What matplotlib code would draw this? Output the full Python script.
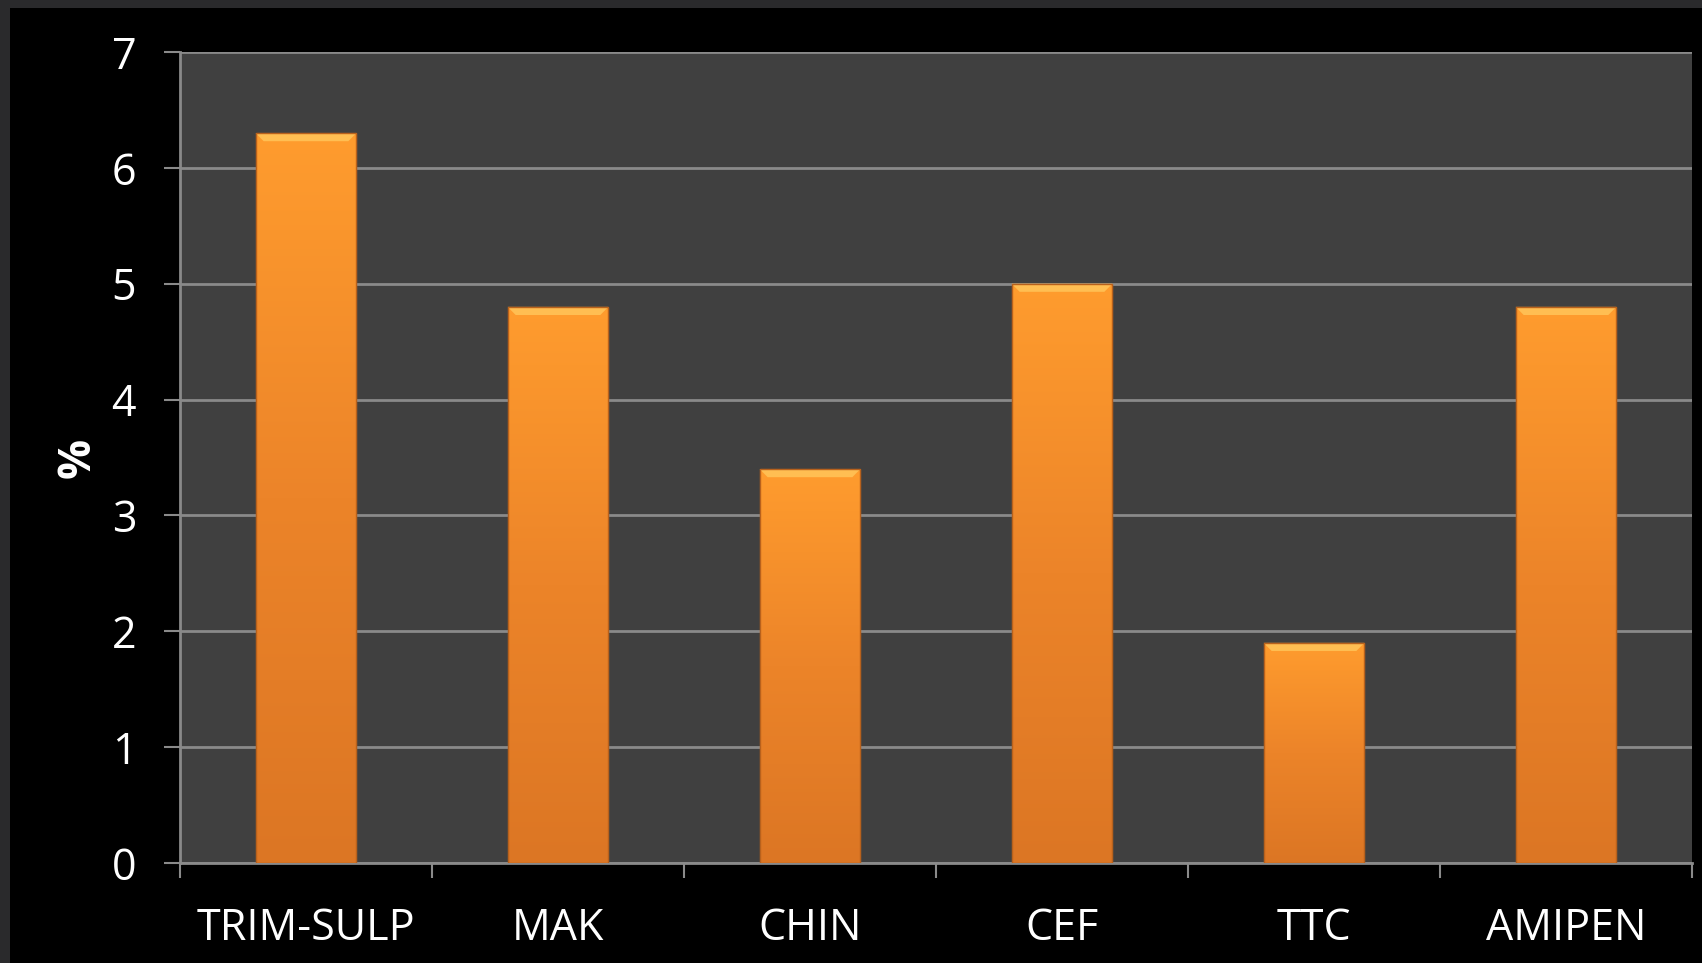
import matplotlib
matplotlib.use("Agg")
import matplotlib.pyplot as plt
import numpy as np
from matplotlib.patches import Rectangle, Polygon
from matplotlib.colors import LinearSegmentedColormap

categories = ["TRIM-SULP", "MAK", "CHIN", "CEF", "TTC", "AMIPEN"]
values = [6.3, 4.8, 3.4, 5.0, 1.9, 4.8]
yticks = [0, 1, 2, 3, 4, 5, 6, 7]
ylabel = "%"

plt.rcParams['font.family'] = ['Open Sans', 'DejaVu Sans']

W, H = 1702, 963
fig = plt.figure(figsize=(W / 100, H / 100), dpi=100)
fig.patch.set_facecolor("#2a2a2c")
# black slide panel
fig.add_artist(Rectangle((10 / W, 0), 1 - 10 / W, 1 - 8 / H, transform=fig.transFigure,
                         facecolor="black", edgecolor="none", zorder=0))

ax = fig.add_axes([180 / W, 1 - 863 / H, (1692 - 180) / W, (863 - 52) / H])
ax.set_facecolor("#404040")

x = np.arange(len(categories))
bw = 0.4
bars = ax.bar(x, values, width=bw, color="#f58c2a", edgecolor="#c86a1e", linewidth=0.8, zorder=3)

grad = np.linspace(0, 1, 256).reshape(-1, 1)
cmap = LinearSegmentedColormap.from_list("og", ["#dc7624", "#ec8429", "#ff9c2e"])
for b in bars:
    x0, w, h = b.get_x(), b.get_width(), b.get_height()
    im = ax.imshow(grad, extent=(x0, x0 + w, 0, h), origin="lower", cmap=cmap,
                   aspect="auto", zorder=3.5, interpolation="bicubic")
    im.set_clip_path(b)
    dy = 0.07
    dx = 0.032
    bevel = Polygon([(x0, h), (x0 + w, h), (x0 + w - dx, h - dy), (x0 + dx, h - dy)],
                    closed=True, facecolor="#ffbe52", edgecolor="none", zorder=4)
    ax.add_patch(bevel)
    ax.add_patch(Rectangle((x0, 0), w, h, facecolor="none", edgecolor="#b8611c",
                           linewidth=1.0, zorder=4.5))

ax.set_xlim(-0.5, len(categories) - 0.5)
ax.set_ylim(0, 7)
ax.set_yticks(yticks)
ax.set_yticklabels([str(t) for t in yticks])
ax.yaxis.grid(True, color="#8a8a8a", linewidth=2.0, zorder=1)
ax.set_axisbelow(True)

ax.set_xticks(x)
ax.set_xticklabels(categories)
ax.set_xticks(np.arange(len(categories) + 1) - 0.5, minor=True)
ax.tick_params(axis="x", which="major", length=0, pad=31, labelsize=31, labelcolor="white")
ax.tick_params(axis="x", which="minor", length=11, width=1.5, color="#8a8a8a", direction="out")
ax.tick_params(axis="y", length=11.5, width=1.5, color="#8a8a8a", pad=20, labelsize=31,
               labelcolor="white")

for s in ["top", "right"]:
    ax.spines[s].set_visible(False)
for s in ["left", "bottom"]:
    ax.spines[s].set_color("#8a8a8a")
    ax.spines[s].set_linewidth(2.0)

ax.set_ylabel(ylabel, color="white", fontsize=32, fontweight="bold")
ax.yaxis.set_label_coords(-(180 - 101) / (1692 - 180), 0.5)

fig.savefig("out.png", dpi=100, facecolor=fig.get_facecolor())
